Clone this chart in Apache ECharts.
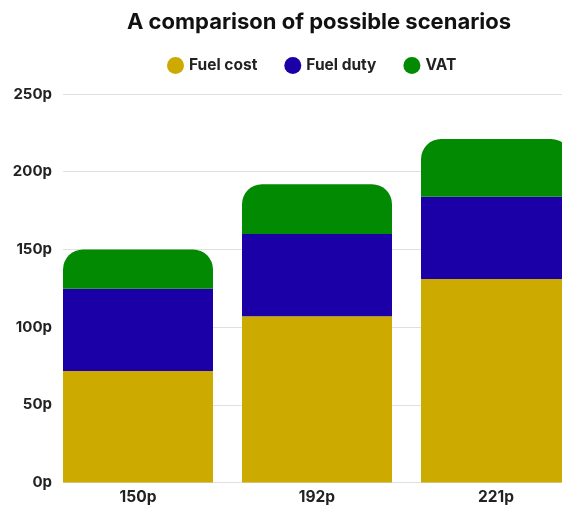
<!DOCTYPE html>
<html>
<head>
<meta charset="utf-8">
<script src="https://cdn.jsdelivr.net/npm/echarts@6/dist/echarts.min.js"></script>
<style>
  html, body { margin: 0; padding: 0; background: #fff; }
  #main { width: 562px; height: 506px; }
</style>
</head>
<body>
<div id="main"></div>
<script>
// scenario totals (pence per litre)
const categories = ['150p', '192p', '221p']
const fuelCost = [71.8, 107, 131]
const fuelDuty = [52.95, 52.95, 52.95]
const vat = [25.25, 32.05, 37.05]
const yTicks = [0, 50, 100, 150, 200, 250]

const FONT = 'Inter'
const chart = echarts.init(document.getElementById('main'))

const option = {
  backgroundColor: '#fff',
  animation: false,
  title: {
    text: 'A comparison of possible scenarios',
    left: 314,
    textAlign: 'center',
    top: 6,
    textStyle: { fontFamily: FONT, fontSize: 22, fontWeight: 'bold', color: '#111' }
  },
  legend: {
    left: 162,
    top: 52,
    icon: 'circle',
    itemWidth: 17,
    itemHeight: 17,
    itemGap: 27,
    textStyle: { fontFamily: FONT, fontSize: 15.5, fontWeight: 'bold', color: '#222' },
    data: ['Fuel cost', 'Fuel duty', 'VAT']
  },
  grid: [
    // grid used only for the y axis labels and split lines
    { left: 63, right: 0, top: 94, bottom: 23.5, outerBoundsMode: 'none' },
    // grid for the bars (wider than the canvas, third bar runs off the edge)
    { left: 48.5, width: 537, top: 94, bottom: 23.5, outerBoundsMode: 'none' }
  ],
  xAxis: [
    { gridIndex: 0, type: 'category', data: categories, show: false },
    {
      gridIndex: 1,
      type: 'category',
      data: categories,
      axisLine: { show: false },
      axisTick: { show: false },
      axisLabel: { fontFamily: FONT, fontSize: 15.5, fontWeight: 'bold', color: '#222', margin: 7 }
    }
  ],
  yAxis: [
    {
      gridIndex: 0,
      type: 'value',
      min: yTicks[0],
      max: yTicks[yTicks.length - 1],
      interval: 50,
      axisLine: { show: false },
      axisTick: { show: false },
      splitLine: { lineStyle: { color: '#e0e0e0', width: 1 } },
      axisLabel: {
        fontFamily: FONT, fontSize: 15, fontWeight: 'bold', color: '#222', margin: 11,
        formatter: v => v + 'p'
      }
    },
    {
      gridIndex: 1,
      type: 'value',
      min: yTicks[0],
      max: yTicks[yTicks.length - 1],
      interval: 50,
      show: false,
      splitLine: { show: false }
    }
  ],
  series: [
    {
      name: 'Fuel cost', type: 'bar', stack: 'total', xAxisIndex: 1, yAxisIndex: 1,
      barWidth: 150, data: fuelCost, itemStyle: { color: '#CCAA00' }
    },
    {
      name: 'Fuel duty', type: 'bar', stack: 'total', xAxisIndex: 1, yAxisIndex: 1,
      barWidth: 150, data: fuelDuty, itemStyle: { color: '#1A00A6' }
    },
    {
      name: 'VAT', type: 'bar', stack: 'total', xAxisIndex: 1, yAxisIndex: 1,
      barWidth: 150, data: vat, itemStyle: { color: '#038A03', borderRadius: [20, 20, 0, 0] }
    }
  ]
}

chart.setOption(option)
</script>
</body>
</html>
